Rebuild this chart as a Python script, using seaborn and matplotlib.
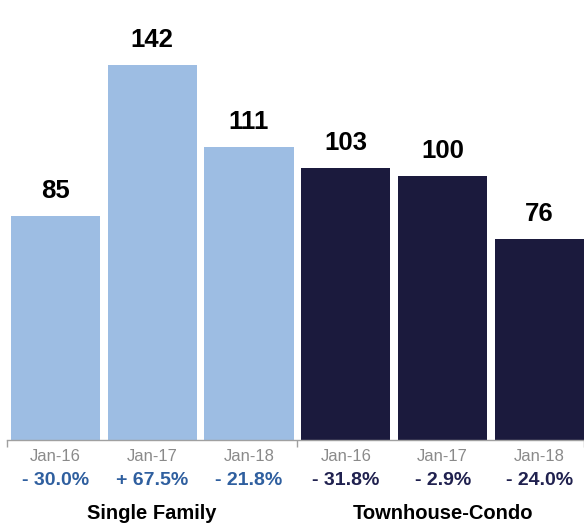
import pandas as pd
import matplotlib
matplotlib.use("Agg")
import matplotlib.pyplot as plt
import seaborn as sns

# ----------------- data -----------------
groups = ['Single Family', 'Townhouse-Condo']
periods = ['Jan-16', 'Jan-17', 'Jan-18']
sf_values = [85, 142, 111]
tc_values = [103, 100, 76]
sf_changes = ['- 30.0%', '+ 67.5%', '- 21.8%']
tc_changes = ['- 31.8%', '- 2.9%', '- 24.0%']

colors = {'Single Family': '#9dbde3', 'Townhouse-Condo': '#1b1a3d'}
change_colors = {'Single Family': '#2f5f9f', 'Townhouse-Condo': '#20214f'}

# build a long table
rows = []
for g, vals, chg in [(groups[0], sf_values, sf_changes), (groups[1], tc_values, tc_changes)]:
    for p, v, c in zip(periods, vals, chg):
        rows.append({'key': g + ' ' + p, 'group': g, 'period': p, 'value': v, 'change': c})
df = pd.DataFrame(rows)

sns.set_style('white')
plt.rcParams['font.family'] = ['Liberation Sans', 'DejaVu Sans']

fig = plt.figure(figsize=(5.84, 5.30), dpi=100)
ax = fig.add_axes([7 / 584, 90 / 530, 577 / 584, 160 * 2.64 / 530])

sns.barplot(data=df, x='key', y='value', hue='group', palette=colors,
            dodge=False, width=0.92, legend=False, saturation=1,
            linewidth=0, edgecolor='none', ax=ax)

ax.set_xlim(-0.5, 5.46)
ax.set_ylim(0, 160)

# value labels on top of bars
for i, row in df.iterrows():
    ax.annotate(str(row['value']), xy=(i, row['value']), xytext=(0, 13),
                textcoords='offset points', ha='center', va='baseline',
                fontsize=18.5, fontweight='bold', color='black')

# period and change labels below axis
for i, row in df.iterrows():
    ax.annotate(row['period'], xy=(i, 0), xycoords=('data', 'axes fraction'),
                xytext=(0, -12), textcoords='offset points', ha='center', va='center',
                fontsize=12, color='#8a8a8a')
    ax.annotate(row['change'], xy=(i, 0), xycoords=('data', 'axes fraction'),
                xytext=(0, -29.5), textcoords='offset points', ha='center', va='center',
                fontsize=14, fontweight='bold', color=change_colors[row['group']])

# group labels
for gx, g in zip([1, 4], groups):
    ax.annotate(g, xy=(gx, 0), xycoords=('data', 'axes fraction'),
                xytext=(0, -53), textcoords='offset points', ha='center', va='center',
                fontsize=14.5, fontweight='bold', color='black')

# axis cosmetics
sns.despine(ax=ax, left=True)
ax.spines['bottom'].set_color('#a0a0a0')
ax.spines['bottom'].set_linewidth(1)
ax.set_yticks([])
ax.set_xticks([-0.5, 2.5, 5.46])
ax.set_xticklabels([])
ax.tick_params(axis='x', direction='out', length=5, width=1, color='#a0a0a0', bottom=True)
ax.set_xlabel('')
ax.set_ylabel('')

fig.savefig('out.png', dpi=100)
